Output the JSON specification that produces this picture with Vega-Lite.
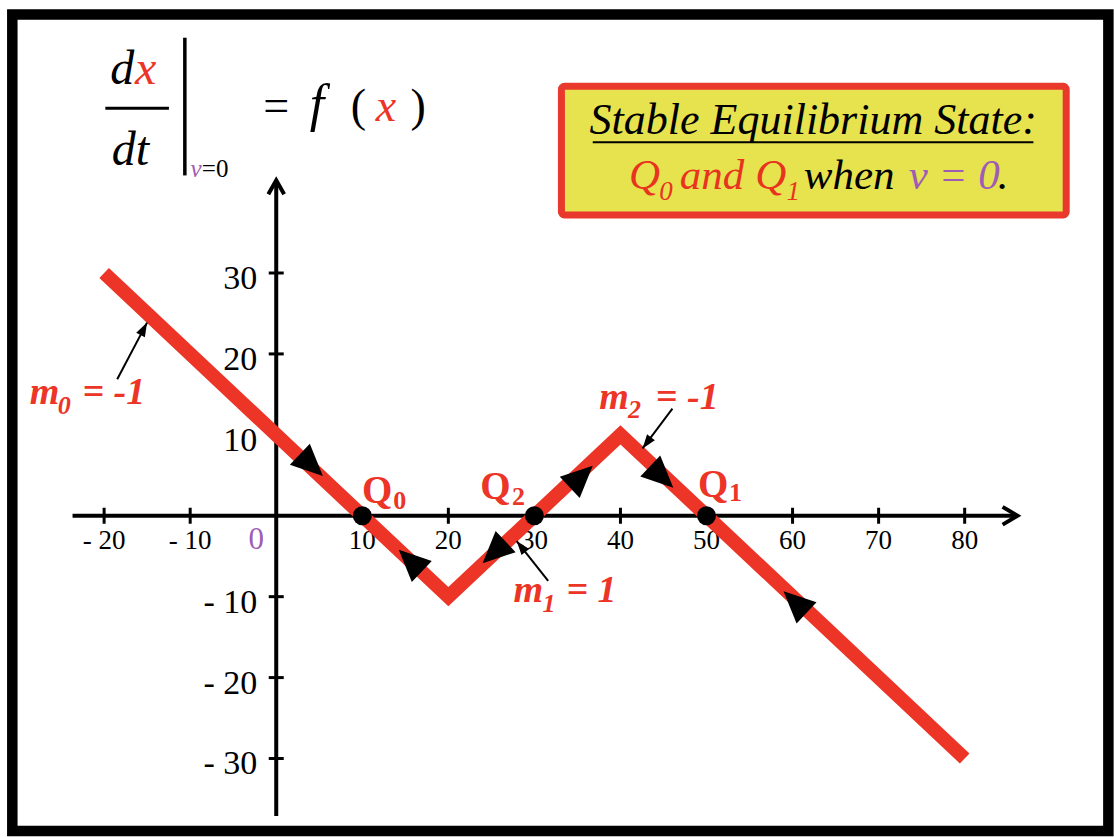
{
  "$schema": "https://vega.github.io/schema/vega-lite/v6.json",
  "width": 1114,
  "height": 837,
  "autosize": {"type": "fit", "contains": "padding"},
  "padding": 0,
  "background": "#ffffff",
  "config": {"view": {"stroke": null}, "font": "Liberation Serif", "text": {"font": "Liberation Serif"}},
  "encoding": {
    "x": {"field": "x", "type": "quantitative", "scale": {"domain": [-32.10, 96.54], "nice": false, "zero": false}, "axis": null},
    "y": {"field": "y", "type": "quantitative", "scale": {"domain": [-38.96, 63.74], "nice": false, "zero": false}, "axis": null}
  },
  "layer": [
    {
      "data": {"values": [{"x": -30.67, "x2": 96.7, "y": 61.96, "y2": -38.95}]},
      "mark": {"type": "rect", "fillOpacity": 0, "stroke": "#000000", "strokeWidth": 10.5},
      "encoding": {"x2": {"field": "x2"}, "y2": {"field": "y2"}}
    },
    {
      "data": {"values": [{"x": 33.14, "x2": 91.80, "y": 53.07, "y2": 37.18}]},
      "mark": {"type": "rect", "fill": "#e6e34e", "stroke": "#e9392c", "strokeWidth": 7, "cornerRadius": 3},
      "encoding": {"x2": {"field": "x2"}, "y2": {"field": "y2"}}
    },
    {
      "data": {"values": [{"x": 62.4, "y": 47.18, "t": "Stable Equilibrium State:"}]},
      "mark": {"type": "text", "font": "Liberation Serif", "fontStyle": "italic", "fontSize": 44, "align": "center", "baseline": "alphabetic", "color": "#000000"},
      "encoding": {"text": {"field": "t"}}
    },
    {
      "data": {"values": [{"x": 36.78, "y": 46.16, "x2": 87.99, "y2": 46.16}]},
      "mark": {"type": "rule", "strokeWidth": 2, "color": "#000000"},
      "encoding": {"x2": {"field": "x2"}, "y2": {"field": "y2"}}
    },
    {
      "data": {"values": [{"x": 40.99, "y": 40.43, "t": "Q"}, {"x": 46.9, "y": 40.43, "t": "and"}, {"x": 55.66, "y": 40.43, "t": "Q"}]},
      "mark": {"type": "text", "font": "Liberation Serif", "fontStyle": "italic", "fontSize": 43, "align": "left", "baseline": "alphabetic", "color": "#e8341f"},
      "encoding": {"text": {"field": "t"}}
    },
    {
      "data": {"values": [{"x": 44.5, "y": 39.0, "t": "0"}, {"x": 59.3, "y": 39.0, "t": "1"}]},
      "mark": {"type": "text", "font": "Liberation Serif", "fontStyle": "italic", "fontSize": 27, "align": "left", "baseline": "alphabetic", "color": "#e8341f"},
      "encoding": {"text": {"field": "t"}}
    },
    {
      "data": {"values": [{"x": 61.3, "y": 40.43, "t": "when"}, {"x": 83.83, "y": 40.43, "t": "."}]},
      "mark": {"type": "text", "font": "Liberation Serif", "fontStyle": "italic", "fontSize": 43, "align": "left", "baseline": "alphabetic", "color": "#000000"},
      "encoding": {"text": {"field": "t"}}
    },
    {
      "data": {"values": [{"x": 73.5, "y": 40.43, "t": "v = 0"}]},
      "mark": {"type": "text", "font": "Liberation Serif", "fontStyle": "italic", "fontSize": 43, "align": "left", "baseline": "alphabetic", "color": "#9e5cb6"},
      "encoding": {"text": {"field": "t"}}
    },
    {
      "data": {"values": [{"x": -19.3, "y": 53.31, "t": "d"}, {"x": -19.1, "y": 43.29, "t": "dt"}]},
      "mark": {"type": "text", "font": "Liberation Serif", "fontStyle": "italic", "fontSize": 48, "align": "left", "baseline": "alphabetic", "color": "#000000"},
      "encoding": {"text": {"field": "t"}}
    },
    {
      "data": {"values": [{"x": 3.9, "y": 48.77, "t": "f"}]},
      "mark": {"type": "text", "font": "Liberation Serif", "fontStyle": "italic", "fontSize": 52, "align": "left", "baseline": "alphabetic", "color": "#000000"},
      "encoding": {"text": {"field": "t"}}
    },
    {
      "data": {"values": [{"x": -16.4, "y": 53.31, "t": "x"}]},
      "mark": {"type": "text", "font": "Liberation Serif", "fontStyle": "italic", "fontSize": 48, "align": "left", "baseline": "alphabetic", "color": "#ec3427"},
      "encoding": {"text": {"field": "t"}}
    },
    {
      "data": {"values": [{"x": 11.55, "y": 48.77, "t": "x"}]},
      "mark": {"type": "text", "font": "Liberation Serif", "fontStyle": "italic", "fontSize": 46, "align": "left", "baseline": "alphabetic", "color": "#ec3427"},
      "encoding": {"text": {"field": "t"}}
    },
    {
      "data": {"values": [{"x": -1.50, "y": 48.77, "t": "="}, {"x": 8.66, "y": 48.77, "t": "("}, {"x": 15.59, "y": 48.77, "t": ")"}]},
      "mark": {"type": "text", "font": "Liberation Serif", "fontSize": 46, "align": "left", "baseline": "alphabetic", "color": "#000000"},
      "encoding": {"text": {"field": "t"}}
    },
    {
      "data": {"values": [{"x": -9.97, "y": 41.90, "t": "v"}]},
      "mark": {"type": "text", "font": "Liberation Serif", "fontStyle": "italic", "fontSize": 25, "align": "left", "baseline": "alphabetic", "color": "#9e5cb6"},
      "encoding": {"text": {"field": "t"}}
    },
    {
      "data": {"values": [{"x": -8.65, "y": 41.90, "t": "=0"}]},
      "mark": {"type": "text", "font": "Liberation Serif", "fontSize": 25, "align": "left", "baseline": "alphabetic", "color": "#000000"},
      "encoding": {"text": {"field": "t"}}
    },
    {
      "data": {"values": [{"x": -19.86, "y": 50.37, "x2": -12.47, "y2": 50.37}]},
      "mark": {"type": "rule", "strokeWidth": 3, "color": "#000000"},
      "encoding": {"x2": {"field": "x2"}, "y2": {"field": "y2"}}
    },
    {
      "data": {"values": [{"x": -10.62, "y": 59.08, "x2": -10.62, "y2": 42.06}]},
      "mark": {"type": "rule", "strokeWidth": 3.5, "color": "#000000"},
      "encoding": {"x2": {"field": "x2"}, "y2": {"field": "y2"}}
    },
    {
      "data": {"values": [{"x": -23.67, "y": 0, "x2": 85.9, "y2": 0}, {"x": 0, "y": -37.12, "x2": 0, "y2": 41.2}]},
      "mark": {"type": "rule", "strokeWidth": 4, "color": "#000000"},
      "encoding": {"x2": {"field": "x2"}, "y2": {"field": "y2"}}
    },
    {
      "data": {"values": [
        {"axis": "x", "k": 0, "x": 84.41, "y": 1.10},
        {"axis": "x", "k": 1, "x": 86.14, "y": 0},
        {"axis": "x", "k": 2, "x": 84.41, "y": -1.10},
        {"axis": "y", "k": 0, "x": -0.92, "y": 39.73},
        {"axis": "y", "k": 1, "x": 0, "y": 41.45},
        {"axis": "y", "k": 2, "x": 0.92, "y": 39.73}
      ]},
      "mark": {"type": "line", "strokeWidth": 4, "strokeJoin": "miter", "strokeCap": "butt", "color": "#000000"},
      "encoding": {"detail": {"field": "axis"}, "order": {"field": "k", "type": "quantitative"}}
    },
    {
      "data": {"values": [
        {"x": -20, "y": 0, "label": "- 20"}, {"x": -10, "y": 0, "label": "- 10"}, {"x": 10, "y": 0, "label": "10"}, {"x": 20, "y": 0, "label": "20"},
        {"x": 30, "y": 0, "label": "30"}, {"x": 40, "y": 0, "label": "40"}, {"x": 50, "y": 0, "label": "50"}, {"x": 60, "y": 0, "label": "60"},
        {"x": 70, "y": 0, "label": "70"}, {"x": 80, "y": 0, "label": "80"}
      ]},
      "mark": {"type": "tick", "orient": "vertical", "size": 16, "thickness": 3, "color": "#000000", "opacity": 1}
    },
    {
      "data": {"values": [
        {"x": -20, "y": 0, "label": "- 20"}, {"x": -10, "y": 0, "label": "- 10"}, {"x": 10, "y": 0, "label": "10"}, {"x": 20, "y": 0, "label": "20"},
        {"x": 30, "y": 0, "label": "30"}, {"x": 40, "y": 0, "label": "40"}, {"x": 50, "y": 0, "label": "50"}, {"x": 60, "y": 0, "label": "60"},
        {"x": 70, "y": 0, "label": "70"}, {"x": 80, "y": 0, "label": "80"}
      ]},
      "mark": {"type": "text", "font": "Liberation Serif", "fontSize": 27, "align": "center", "baseline": "middle", "dy": 25, "color": "#000000"},
      "encoding": {"text": {"field": "label"}}
    },
    {
      "data": {"values": [
        {"x": 0, "y": 30, "label": "30"}, {"x": 0, "y": 20, "label": "20"}, {"x": 0, "y": 10, "label": "10"},
        {"x": 0, "y": -10, "label": "- 10"}, {"x": 0, "y": -20, "label": "- 20"}, {"x": 0, "y": -30, "label": "- 30"}
      ]},
      "mark": {"type": "tick", "orient": "horizontal", "size": 15, "thickness": 3, "color": "#000000", "opacity": 1}
    },
    {
      "data": {"values": [
        {"x": 0, "y": 30, "label": "30"}, {"x": 0, "y": 20, "label": "20"}, {"x": 0, "y": 10, "label": "10"},
        {"x": 0, "y": -10, "label": "- 10"}, {"x": 0, "y": -20, "label": "- 20"}, {"x": 0, "y": -30, "label": "- 30"}
      ]},
      "mark": {"type": "text", "font": "Liberation Serif", "fontSize": 34, "align": "right", "baseline": "alphabetic", "dx": -19, "dy": 16, "color": "#000000"},
      "encoding": {"text": {"field": "label"}}
    },
    {
      "data": {"values": [{"x": 0, "y": 0, "t": "0"}]},
      "mark": {"type": "text", "font": "Liberation Serif", "fontSize": 31, "align": "center", "baseline": "middle", "dx": -20, "dy": 24, "color": "#9e5cb6"},
      "encoding": {"text": {"field": "t"}}
    },
    {
      "data": {"values": [{"x": -20, "y": 30}, {"x": 20, "y": -10}, {"x": 40, "y": 10}, {"x": 80, "y": -30}]},
      "mark": {"type": "line", "strokeWidth": 14, "strokeJoin": "miter", "strokeCap": "butt", "color": "#ec3427"}
    },
    {
      "data": {"values": [
        {"x": -18.48, "y": 16.87, "x2": -15.01, "y2": 23.87},
        {"x": 31.60, "y": -8.04, "x2": 27.94, "y2": -3.13},
        {"x": 46.04, "y": 13.23, "x2": 42.57, "y2": 8.32}
      ]},
      "mark": {"type": "rule", "strokeWidth": 2, "color": "#000000"},
      "encoding": {"x2": {"field": "x2"}, "y2": {"field": "y2"}}
    },
    {
      "data": {"values": [
        {"x": -15.01, "y": 23.87, "heading": 27.8},
        {"x": 27.94, "y": -3.13, "heading": 321.6},
        {"x": 42.57, "y": 8.32, "heading": 216.9}
      ]},
      "mark": {"type": "point", "shape": "M0,0L0.7,2L-0.7,2Z", "size": 196, "filled": true, "color": "#000000", "opacity": 1, "strokeWidth": 0},
      "encoding": {"angle": {"field": "heading", "type": "quantitative", "scale": null}}
    },
    {
      "data": {"values": [{"x": 10, "y": 0}, {"x": 30, "y": 0}, {"x": 50, "y": 0}]},
      "mark": {"type": "point", "shape": "circle", "size": 361, "filled": true, "color": "#000000", "opacity": 1, "strokeWidth": 0}
    },
    {
      "data": {"values": [
        {"x": 3.64, "y": 6.7, "heading": 133.3},
        {"x": 16.02, "y": -5.99, "heading": 313.3},
        {"x": 25.76, "y": -4.09, "heading": 226.7},
        {"x": 35.0, "y": 4.4, "heading": 46.7},
        {"x": 44.36, "y": 5.25, "heading": 133.3},
        {"x": 60.73, "y": -11.10, "heading": 313.3}
      ]},
      "mark": {"type": "point", "shape": "M0,-1.33L0.92,0.67L-0.92,0.67Z", "size": 1000, "filled": true, "color": "#000000", "opacity": 1, "strokeWidth": 0},
      "encoding": {"angle": {"field": "heading", "type": "quantitative", "scale": null}}
    },
    {
      "data": {"values": [{"x": 9.97, "y": 1.53, "t": "Q"}, {"x": 23.71, "y": 2.02, "t": "Q"}, {"x": 49.0, "y": 2.27, "t": "Q"}]},
      "mark": {"type": "text", "font": "Liberation Serif", "fontWeight": "bold", "fontSize": 39, "align": "left", "baseline": "alphabetic", "color": "#ec3427"},
      "encoding": {"text": {"field": "t"}}
    },
    {
      "data": {"values": [{"x": 13.6, "y": 0.83, "t": "0"}, {"x": 27.4, "y": 1.37, "t": "2"}, {"x": 52.6, "y": 1.78, "t": "1"}]},
      "mark": {"type": "text", "font": "Liberation Serif", "fontWeight": "bold", "fontSize": 26, "align": "left", "baseline": "alphabetic", "color": "#ec3427"},
      "encoding": {"text": {"field": "t"}}
    },
    {
      "data": {"values": [
        {"x": -28.64, "y": 13.84, "t": "m"}, {"x": -22.52, "y": 13.84, "t": "= -1"},
        {"x": 27.56, "y": -10.61, "t": "m"}, {"x": 33.72, "y": -10.61, "t": "= 1"},
        {"x": 37.53, "y": 13.23, "t": "m"}, {"x": 44.11, "y": 13.23, "t": "= -1"}
      ]},
      "mark": {"type": "text", "font": "Liberation Serif", "fontWeight": "bold", "fontStyle": "italic", "fontSize": 38, "align": "left", "baseline": "alphabetic", "color": "#ec3427"},
      "encoding": {"text": {"field": "t"}}
    },
    {
      "data": {"values": [{"x": -25.40, "y": 12.61, "t": "0"}, {"x": 30.95, "y": -11.84, "t": "1"}, {"x": 40.88, "y": 12.09, "t": "2"}]},
      "mark": {"type": "text", "font": "Liberation Serif", "fontWeight": "bold", "fontStyle": "italic", "fontSize": 26, "align": "left", "baseline": "alphabetic", "color": "#ec3427"},
      "encoding": {"text": {"field": "t"}}
    }
  ]
}
